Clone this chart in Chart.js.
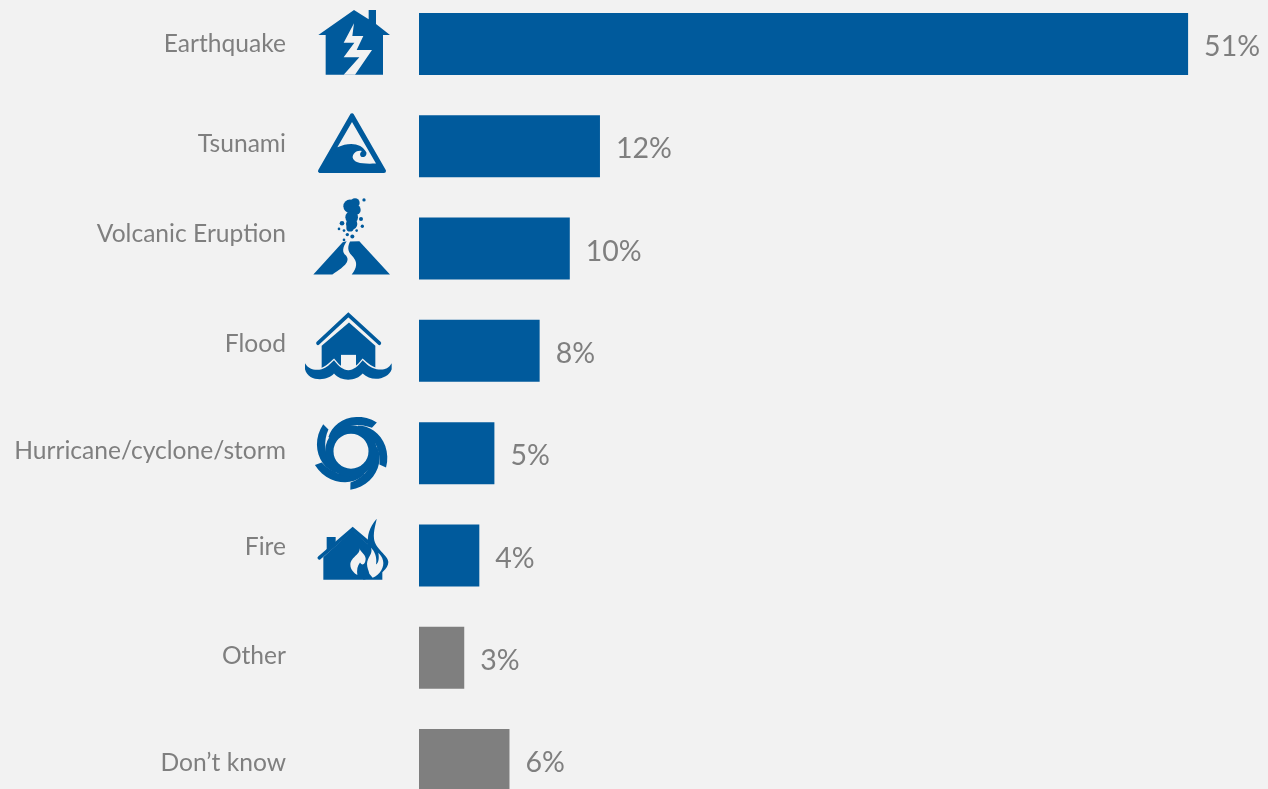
<!DOCTYPE html>
<html>
<head>
<meta charset="utf-8">
<style>
html, body { margin: 0; padding: 0; background: #f2f2f2; overflow: hidden; }
#chart { position: absolute; left: 0; top: -20px; }
</style>
<script src="https://cdn.jsdelivr.net/npm/chart.js@4/dist/chart.umd.min.js"></script>
</head>
<body>
<canvas id="chart" width="1268" height="850"></canvas>
<script>
const categories = ['Earthquake', 'Tsunami', 'Volcanic Eruption', 'Flood', 'Hurricane/cyclone/storm', 'Fire', 'Other', 'Don\u2019t know'];
const shares = [51, 12, 10, 8, 5, 4, 3, 6];
const icons = ['house', 'wave', 'volcano', 'flood', 'storm', 'fire', null, null];

const BLUE = '#005a9c';
const GREY = '#7f7f7f';
const BG = '#f2f2f2';
const barColors = icons.map(name => name ? BLUE : GREY);
// the category text does not sit on the bar centre in the original
const labelNudge = [0, -2, -15, -7, -2, -8, -2, 3];

// arm of the storm icon, swept back from its tip
function armPath(cx, cy, tipDeg) {
    const pt = (r, deg) => {
        const a = deg * Math.PI / 180;
        return (cx + r * Math.cos(a)).toFixed(1) + ' ' + (cy + r * Math.sin(a)).toFixed(1);
    };
    let d = 'M' + pt(116, tipDeg);
    for (let i = 1; i <= 12; i++) d += ' L' + pt(116 - 36 * i / 12, tipDeg - 100 * i / 12);
    for (let i = 12; i >= 0; i--) d += ' L' + pt(70 + 24 * Math.pow(1 - i / 12, 2.5), tipDeg - 100 * i / 12);
    return d + ' Z';
}

// icon shapes, units are a third of a pixel, cy = bar centre in the same units
const iconShapes = {
    house: {
        cy: 132,
        fill: ['M162 30 L206 58 L206 30 L228 30 L228 72 L270 105 L249 105 L249 224 L77 224 L77 105 L55 105 Z'],
        cut: ['M162 70 L131 128 L163 128 L131 172 L178 172 L131 224 L165 224 L216 150 L170 150 L190 108 L157 108 Z']
    },
    wave: {
        cy: 438,
        rounded: 'M156 345 L60 512 L252 512 Z',
        cut: ['M156 365 L112 441 C148 424 185 428 199 456 C201 466 194 472 186 470 C179 468 178 458 186 452 C170 448 157 460 158 472 C161 488 185 492 228 490 Z']
    },
    volcano: {
        cy: 744,
        fill: [
            'M40 822 L128 725 L140 722 C128 740 125 755 138 765 C150 780 140 795 97 822 Z',
            'M150 723 L178 722 L270 822 L155 822 C172 800 172 785 160 770 C145 755 140 745 150 723 Z'
        ],
        dots: [[150, 617, 20], [165, 607, 14], [167, 628, 15], [155, 650, 19], [155, 670, 17], [150, 682, 11],
            [192, 598, 5], [126, 668, 7], [183, 655, 6], [117, 685, 4], [132, 690, 4], [187, 677, 5], [170, 690, 4], [142, 702, 5], [157, 708, 6], [132, 718, 4]]
    },
    flood: {
        cy: 150,
        fill: ['M65 135 L147 65 L226 135 L226 215 L65 215 Z'],
        cut: ['M123 162 L168 162 L168 205 L123 205 Z'],
        line: 'M54 127 L145 42 L238 127',
        front: 'M15 187 C25 205 45 210 65 205 C80 200 90 190 102 178 C115 195 130 208 145 208 C160 208 175 195 188 178 C200 190 210 200 230 205 C250 208 265 205 275 187 L275 205 C265 235 215 245 188 218 C170 240 125 245 102 218 C85 240 25 245 15 205 Z'
    },
    storm: {
        cy: 459,
        ring: [153, 453, 65, 25],
        fill: [armPath(153, 453, -48), armPath(153, 453, 25), armPath(153, 453, 91), armPath(153, 453, 159), armPath(153, 453, -136)]
    },
    fire: {
        cy: 765,
        fill: [
            'M70 770 L158 690 L247 770 L247 838 L70 838 Z',
            'M80 710 L107 710 L107 735 L80 760 Z',
            'M230 655 C208 680 200 710 205 730 L190 745 L190 838 L215 832 C240 825 265 805 265 785 C265 765 225 745 222 715 C220 690 228 670 230 655 Z'
        ],
        line: 'M58 772 L158 686 L205 726',
        cut: [
            'M178 742 C184 762 153 768 151 792 C151 808 163 818 172 824 C170 808 172 796 180 786 C186 796 196 794 197 775 C196 760 180 755 178 742 Z',
            'M213 742 C220 760 202 770 201 790 C201 802 206 810 208 820 L218 832 C240 822 254 800 249 780 C247 770 240 762 235 757 C238 772 236 788 228 792 C232 772 224 752 213 742 Z'
        ]
    }
};

function drawIcon(ctx, shape, centerY) {
    ctx.save();
    ctx.translate(300, centerY);
    ctx.scale(1 / 3, 1 / 3);
    ctx.translate(0, -shape.cy);
    ctx.fillStyle = BLUE;
    ctx.strokeStyle = BLUE;
    (shape.fill || []).forEach(d => ctx.fill(new Path2D(d)));
    (shape.dots || []).forEach(c => {
        ctx.beginPath();
        ctx.arc(c[0], c[1], c[2], 0, Math.PI * 2);
        ctx.fill();
    });
    if (shape.rounded) {
        ctx.lineJoin = 'round';
        ctx.lineWidth = 12;
        const p = new Path2D(shape.rounded);
        ctx.fill(p);
        ctx.stroke(p);
    }
    if (shape.ring) {
        ctx.lineWidth = shape.ring[3];
        ctx.beginPath();
        ctx.arc(shape.ring[0], shape.ring[1], shape.ring[2], 0, Math.PI * 2);
        ctx.stroke();
    }
    if (shape.line) {
        ctx.lineWidth = 11;
        ctx.lineCap = 'round';
        ctx.lineJoin = 'miter';
        ctx.stroke(new Path2D(shape.line));
    }
    ctx.fillStyle = BG;
    (shape.cut || []).forEach(d => ctx.fill(new Path2D(d)));
    if (shape.front) {
        const p = new Path2D(shape.front);
        ctx.strokeStyle = BG;
        ctx.lineWidth = 7;
        ctx.stroke(p);
        ctx.fillStyle = BLUE;
        ctx.fill(p);
    }
    ctx.restore();
}

// category text, icons and value labels
const decorations = {
    id: 'decorations',
    afterDatasetsDraw(chart) {
        const ctx = chart.ctx;
        const x = chart.scales.x;
        const y = chart.scales.y;
        ctx.save();
        ctx.fillStyle = GREY;
        ctx.textBaseline = 'middle';
        categories.forEach((name, i) => {
            const cy = y.getPixelForValue(i);
            ctx.font = '24.6px Lato';
            ctx.textAlign = 'right';
            ctx.fillText(name, 286, cy + labelNudge[i]);
            ctx.font = '28.5px Lato';
            ctx.textAlign = 'left';
            ctx.fillText(shares[i] + '%', x.getPixelForValue(shares[i]) + 16, cy + 3);
            if (icons[i]) {
                drawIcon(ctx, iconShapes[icons[i]], cy);
                ctx.fillStyle = GREY;
            }
        });
        ctx.restore();
    }
};

new Chart(document.getElementById('chart').getContext('2d'), {
    type: 'bar',
    data: {
        labels: categories,
        datasets: [{
            data: shares,
            backgroundColor: barColors,
            barPercentage: 0.606,
            categoryPercentage: 1
        }]
    },
    options: {
        indexAxis: 'y',
        responsive: false,
        animation: false,
        layout: { padding: { left: 419, right: 4.5, top: 12.86, bottom: 18.85 } },
        scales: {
            x: { display: false, min: 0, max: 56 },
            y: { display: false }
        },
        plugins: {
            legend: { display: false },
            tooltip: { enabled: false }
        }
    },
    plugins: [decorations]
});
</script>
</body>
</html>
